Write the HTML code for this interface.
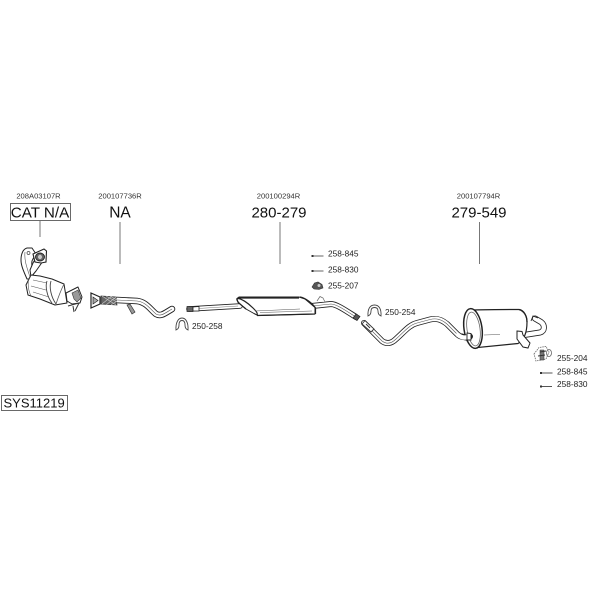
<!DOCTYPE html>
<html><head><meta charset="utf-8"><style>
html,body{margin:0;padding:0;background:#fff}
svg{display:block;filter:blur(.35px)}
text{font-family:"Liberation Sans",sans-serif;fill:#222}
.s{font-size:7.6px;fill:#333;text-anchor:middle}
.b{font-size:15px;text-anchor:middle;fill:#111}
.l{font-size:8.3px;fill:#222}
.k{fill:none;stroke:#222;stroke-linejoin:round;stroke-linecap:round}
.w{fill:none;stroke:#fff;stroke-linejoin:round;stroke-linecap:round}
.f{fill:#fff;stroke:#222;stroke-width:1;stroke-linejoin:round}
.t{fill:none;stroke:#555;stroke-width:.6}
</style></head><body>
<svg width="600" height="600" viewBox="0 0 600 600" xmlns="http://www.w3.org/2000/svg">
<rect width="600" height="600" fill="#fff"/>
<text class="s" x="38.500" y="198.500">208A03107R</text>
<text class="s" x="120" y="198.500">200107736R</text>
<text class="s" x="278.500" y="198.500">200100294R</text>
<text class="s" x="478.500" y="198.500">200107794R</text>
<rect x="10.500" y="203.500" width="60" height="17" fill="#fff" stroke="#444" stroke-width=".8"/>
<text class="b" x="40" y="217.500" style="font-size:15.200px">CAT N/A</text>
<text class="b" x="120" y="217.500" style="font-size:15.500px">NA</text>
<text class="b" x="279" y="217.500">280-279</text>
<text class="b" x="479" y="217.500">279-549</text>
<g stroke="#777" stroke-width="1" fill="none">
<path d="M40 221V237M120 222V264M280 222V264M479.500 222V264"/>
</g>
<rect x="1.500" y="395.500" width="66" height="15" fill="#fff" stroke="#444" stroke-width=".8"/>
<text x="3.500" y="407.500" style="font-size:13px;fill:#111">SYS11219</text>

<!-- catalyst -->
<path class="f" d="M27 248C23 249 21 254 21 260C21 266 24 272 27 279L34 279C33 272 31 266 32 261C33 258 35 256 36 254L32 248Z" stroke="#333" stroke-width=".8"/>
<path class="t" d="M25 252C24 260 27 268 30 277"/>
<circle cx="28.500" cy="253" r="1.500" fill="#fff" stroke="#444" stroke-width=".7"/>
<path class="f" d="M33 263L37 256L42 252L46 254L43 261L36 271L31 277L30 270Z" stroke="#333" stroke-width=".8"/>
<path d="M33 254L44 249L46.500 251L46 262L41 263L35 262Z" fill="#fff" stroke="#222" stroke-width="1.100"/>
<ellipse cx="40" cy="257" rx="4.500" ry="4" fill="#666" stroke="#222" stroke-width=".9"/>
<ellipse cx="40" cy="257" rx="2" ry="2.200" fill="#ccc"/>
<path class="f" d="M31 275L40 276L52 279L64 284L67 303L55 305L40 299L28 295L26 285Z" stroke="#333"/>
<path class="t" d="M30 276C27 281 28 290 31 296M33 280L47 283M31 286L46 290M33 292L49 297" stroke="#777"/>
<path fill="none" stroke="#444" stroke-width=".9" d="M47 281C45 286 47 297 52 303M51 281C49 287 51 297 56 304"/>
<path fill="none" stroke="#555" stroke-width=".8" d="M64 284C60 292 58 298 56 304"/>
<path class="f" d="M66 293L72 290L78 287L82 297L80 303L72 304L67 301Z" stroke="#333" stroke-width=".8"/>
<path fill="#999" stroke="#333" stroke-width=".6" d="M72 293L78 290L81 298L77 302L74 299Z"/>
<path fill="none" stroke="#333" stroke-width="1" d="M68 306L79 303L75 311M73 306L74 312"/>

<!-- front pipe -->
<path class="k" stroke-width="6.500" d="M117 300L137 301C146 302 150 309 156 314C161 317 165 313 172 309"/>
<path class="w" stroke-width="4.700" d="M117 300L137 301C146 302 150 309 156 314C161 317 165 313 172 309"/>
<path class="t" d="M117 300L137 301C146 302 150 309 156 314C161 317 165 313 172 309" stroke="#888"/>
<path d="M127 305L130 304L135 312L132 314Z" fill="#999" stroke="#333" stroke-width=".7"/>
<path d="M101 296L116 297L117 305L101 304Z" fill="#666" stroke="#333" stroke-width=".7"/>
<path d="M102 296L116 305M106 296L117 302M110 296L117 300M102 304L112 296M106 305L116 297M111 305L117 301" stroke="#ccc" stroke-width=".6"/>
<path d="M91 293L100 297L100 304L91 308Z" fill="#fff" stroke="#222" stroke-width="1.200"/>
<path d="M93 297L98 300.500L93 304Z" fill="#aaa" stroke="#222" stroke-width=".7"/>

<!-- clamps -->
<g fill="#fff" stroke="#444" stroke-width=".9">
<path d="M176 330C175.500 323 178 318 182 318C186 318 188.500 323 188 330C186 329 185 328 185 325C185 322 184 320.500 182 320.500C180 320.500 179 322 179 325C179 328 178 329 176 330Z"/>
<path d="M368 316C367.500 309 370 305 374.500 305C379 305 381.500 309 381 316C379 315 378 314 378 311C378 308.500 377 307.500 374.500 307.500C372 307.500 371 308.500 371 311C371 314 370 315 368 316Z"/>
</g>
<text class="l" x="192" y="329">250-258</text>
<text class="l" x="385" y="315">250-254</text>

<!-- middle section -->
<path class="k" stroke-width="5.500" d="M189 309L240 306"/>
<path class="w" stroke-width="3.800" d="M189 309L240 306"/>
<path stroke="#777" stroke-width=".6" d="M198 308.500L238 306"/>
<path d="M187 306.500L193 306.500L193 311.500L187 311.500Z" fill="#666" stroke="#222" stroke-width=".7"/>
<path d="M193 307L199 306.500V311L193 311Z" fill="#fff" stroke="#222" stroke-width=".8"/>
<path class="k" stroke-width="6" d="M312 306L331 304C336 304 345 310 356 317"/>
<path class="w" stroke-width="4.200" d="M312 306L331 304C336 304 345 310 355 316.500"/>
<path class="t" d="M312 306L331 304C336 304 345 310 355 316.500"/>
<path d="M353 318L356 314L360 316.500L357 320.500Z" fill="#555" stroke="#222" stroke-width=".7"/>
<path d="M317 301L320 296.500L323 298L325 302" fill="#fff" stroke="#666" stroke-width=".7"/>
<path class="f" d="M237 298.500L239 297L299 297L305 299L315 307.500L315 314L258 315.500L254 313.500L246 309L238 302.500Z" stroke-width="1.200"/>
<path fill="none" stroke="#222" stroke-width="1.200" d="M237 298.500C241 298 248 303 253 308C256 311 258 313 257 315.500M237 298.500C236 301 240 304 246 309M238 298H299"/>
<path fill="none" stroke="#222" stroke-width="1.200" d="M300 297C306 298 313 304 315.500 308V314M257 315.500L315 314"/>
<path class="t" d="M255 311L300 309M260 312.500L312 311"/>

<!-- rear pipe -->
<path class="k" stroke-width="6" d="M364 323L382 341C386 344 391 344 396 339C404 332 409 325 417 323L430 319.500C436 318 441 319 447 324L457 334C460 337 464 338 470 336"/>
<path class="w" stroke-width="4.400" d="M364 323L382 341C386 344 391 344 396 339C404 332 409 325 417 323L430 319.500C436 318 441 319 447 324L457 334C460 337 464 338 470 336"/>
<path class="t" d="M364 323L382 341C386 344 391 344 396 339C404 332 409 325 417 323L430 319.500C436 318 441 319 447 324L457 334C460 337 464 338 470 336"/>
<path d="M362 324L365 320.500L374 329L371 332Z" fill="#fff" stroke="#333" stroke-width=".9"/>
<path d="M366 324L370 328" stroke="#333" stroke-width="1"/>

<!-- rear exit pipe (behind) -->
<path class="k" stroke-width="6" d="M524 335L540 332.500C545 331 545 325 541 322L535 318.500"/>
<path class="w" stroke-width="4.400" d="M524 335L540 332.500C545 331 545 325 541 322L535 318.500"/>
<path d="M531 321L533 316L538 318" fill="none" stroke="#222" stroke-width=".9"/>

<!-- rear muffler -->
<path d="M474 310C490 309.500 505 309.500 519 309.500C524 310 527 316 527 322C527 332 524 340 518 343.500L478 347.500Z" fill="#fff" stroke="#222" stroke-width="1.200"/>
<path fill="none" stroke="#222" stroke-width="1.300" d="M519 309.500C524 311 527 316 527 322"/>
<path class="t" d="M484 335L500 334.500"/>
<ellipse cx="473" cy="328.500" rx="9" ry="20" transform="rotate(-8 473 328.500)" fill="#fff" stroke="#222" stroke-width="1.500"/>
<ellipse cx="473.500" cy="329" rx="6.500" ry="17" transform="rotate(-8 473.500 329)" fill="#fff" stroke="#666" stroke-width=".8"/>
<path class="k" stroke-width="6" d="M462 336.500C466 338 469 338 470 336.500"/>
<path class="w" stroke-width="4.400" d="M458 335C462 338 466 338 469 336.500"/>
<path d="M467 333L471 333.500L471 340L467 340Z" fill="#fff" stroke="#222" stroke-width=".9"/>
<path d="M517 331L522 331.500L523 335L530 343L528 348L523 347L517 339Z" fill="#fff" stroke="#222" stroke-width="1"/>

<!-- hanger 255-204 -->
<g fill="none" stroke="#666" stroke-width=".8">
<path d="M534 354L539 347.500L546 346.500L549 352L546 359L536 361Z" stroke-dasharray="1.500 .8"/>
<ellipse cx="549" cy="353" rx="2.500" ry="3.500"/>
</g>
<path d="M540 350H544V360H540Z" fill="#777" stroke="#333" stroke-width=".5"/>
<path d="M540 352L546 351M538 356L545 355" stroke="#333" stroke-width=".9"/>
<text class="l" x="557" y="361">255-204</text>
<text class="l" x="557" y="374.500">258-845</text>
<text class="l" x="557" y="387">258-830</text>
<path d="M540.500 373H552.500M541 386.500H552" stroke="#555" stroke-width=".9"/>
<rect x="540" y="372" width="2" height="2" fill="#333"/>
<rect x="540" y="385.500" width="2" height="2" fill="#333"/>

<!-- fixings -->
<path d="M312 256H323.500M312 271H323.500" stroke="#666" stroke-width=".9"/>
<rect x="311.500" y="255" width="2" height="2" fill="#333"/>
<rect x="311.500" y="270" width="2" height="2" fill="#333"/>
<path d="M312 287L314.500 283L318 282L322 284.500L323 288L319 289.500L314 289Z" fill="#555" stroke="#333" stroke-width=".6"/>
<circle cx="319" cy="285.500" r="1.500" fill="#ccc"/>
<text class="l" x="328" y="256.500">258-845</text>
<text class="l" x="328" y="272.500">258-830</text>
<text class="l" x="328" y="288.500">255-207</text>
</svg>
</body></html>
